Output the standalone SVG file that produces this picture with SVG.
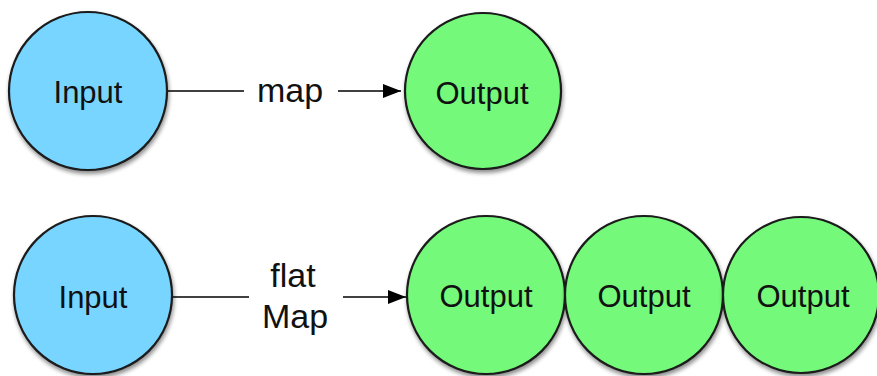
<svg xmlns="http://www.w3.org/2000/svg" width="877" height="376" viewBox="0 0 877 376">
  <defs>
    <filter id="shadow" x="-20%" y="-20%" width="140%" height="140%">
      <feGaussianBlur in="SourceAlpha" stdDeviation="2"/>
      <feOffset dx="1" dy="3" result="blur"/>
      <feComponentTransfer><feFuncA type="linear" slope="0.45"/></feComponentTransfer>
      <feMerge><feMergeNode/><feMergeNode in="SourceGraphic"/></feMerge>
    </filter>
    <marker id="arrow" viewBox="0 0 18 14" refX="18" refY="7" markerWidth="18" markerHeight="14" markerUnits="userSpaceOnUse" orient="auto">
      <path d="M0,0 L18,7 L0,14 Z" fill="#000"/>
    </marker>
  </defs>
  <style>
    .node { stroke: #1a1a1a; stroke-width: 2.2; filter: url(#shadow); }
    .in { fill: #78D5FF; }
    .out { fill: #74F97A; }
    .label { font-family: "Liberation Sans", Arial, sans-serif; font-size: 31px; fill: #111; text-anchor: middle; }
    .edge-label { font-family: "Liberation Sans", Arial, sans-serif; font-size: 34px; fill: #111; text-anchor: middle; }
    .edge { stroke: #000; stroke-width: 1.6; fill: none; }
  </style>

  <!-- connectors -->
  <g id="connectors">
    <line class="edge" x1="168" y1="91" x2="244" y2="91"/>
    <line class="edge" x1="338" y1="91" x2="401" y2="91" marker-end="url(#arrow)"/>
    <text class="edge-label" x="290" y="102">map</text>

    <line class="edge" x1="173" y1="297" x2="249" y2="297"/>
    <line class="edge" x1="343" y1="297" x2="406" y2="297" marker-end="url(#arrow)"/>
    <text class="edge-label" x="293" y="287">flat</text>
    <text class="edge-label" x="295" y="328">Map</text>
  </g>

  <!-- map row -->
  <g id="map-input">
    <circle class="node in" cx="88" cy="91" r="79"/>
    <text class="label" x="88" y="103">Input</text>
  </g>
  <g id="map-output">
    <circle class="node out" cx="483" cy="91" r="78"/>
    <text class="label" x="482" y="104">Output</text>
  </g>

  <!-- flatMap row -->
  <g id="flatmap-input">
    <circle class="node in" cx="93" cy="295" r="79"/>
    <text class="label" x="93" y="308">Input</text>
  </g>
  <g id="flatmap-output-1">
    <circle class="node out" cx="486" cy="295" r="79"/>
    <text class="label" x="486" y="307">Output</text>
  </g>
  <g id="flatmap-output-2">
    <circle class="node out" cx="644" cy="295" r="79"/>
    <text class="label" x="644" y="307">Output</text>
  </g>
  <g id="flatmap-output-3">
    <circle class="node out" cx="801" cy="295" r="78"/>
    <text class="label" x="803" y="307">Output</text>
  </g>
</svg>
